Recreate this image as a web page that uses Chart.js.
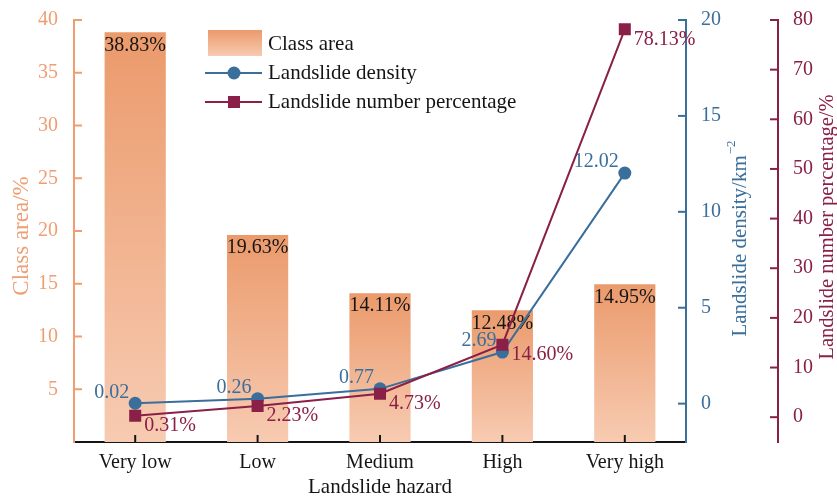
<!DOCTYPE html>
<html>
<head>
<meta charset="utf-8">
<script src="https://cdn.jsdelivr.net/npm/chart.js@4.4.0/dist/chart.umd.min.js"></script>
<style>
  html, body { margin: 0; padding: 0; background: #ffffff; }
  #wrap { width: 837px; height: 499px; }
</style>
</head>
<body>
<div id="wrap"><canvas id="c" width="837" height="499"></canvas></div>
<script>
// Hazard classes along the x axis
const hazardLevels = ['Very low', 'Low', 'Medium', 'High', 'Very high'];
// Share of the study area in each class (%)
const classArea = [38.83, 19.63, 14.11, 12.48, 14.95];
// Landslide density per class (km^-2)
const landslideDensity = [0.02, 0.26, 0.77, 2.69, 12.02];
// Share of all landslides falling in each class (%)
const landslideNumberPct = [0.31, 2.23, 4.73, 14.60, 78.13];
// Tick values shown on each value axis
const areaTicks = [5, 10, 15, 20, 25, 30, 35, 40];
const densityTicks = [0, 5, 10, 15, 20];
const numberTicks = [0, 10, 20, 30, 40, 50, 60, 70, 80];

const SERIF = '"Liberation Serif", "Times New Roman", serif';
const ORANGE = '#EE9E72';
const BAR_TOP = '#EB9A6B';
const BAR_BOTTOM = '#F7CBB2';
const BLUE = '#3A6E9B';
const WINE = '#8A1F47';
const INK = '#151515';
const FONT = { family: SERIF, size: 20 };

function barGradient(ctx, yTop, yBottom) {
  const g = ctx.createLinearGradient(0, yTop, 0, yBottom);
  g.addColorStop(0, BAR_TOP);
  g.addColorStop(1, BAR_BOTTOM);
  return g;
}

function setTicks(values) {
  return scale => { scale.ticks = values.map(v => ({ value: v })); };
}

const decorations = {
  id: 'decorations',
  afterDatasetDraw(chart, args) {
    const ctx = chart.ctx;
    const meta = args.meta;
    ctx.save();
    ctx.font = `20px ${SERIF}`;
    ctx.textBaseline = 'middle';
    if (args.index === 0) {
      ctx.fillStyle = INK;
      ctx.textAlign = 'center';
      meta.data.forEach((bar, i) => {
        ctx.fillText(classArea[i].toFixed(2) + '%', bar.x, bar.y + 13);
      });
    } else if (args.index === 1) {
      ctx.fillStyle = BLUE;
      ctx.textAlign = 'right';
      meta.data.forEach((pt, i) => {
        ctx.fillText(landslideDensity[i].toFixed(2), pt.x - 6, pt.y - 11);
      });
    } else if (args.index === 2) {
      ctx.fillStyle = WINE;
      ctx.textAlign = 'left';
      meta.data.forEach((pt, i) => {
        ctx.fillText(landslideNumberPct[i].toFixed(2) + '%', pt.x + 9, pt.y + 10);
      });
    }
    ctx.restore();
  },
  afterDraw(chart) {
    const ctx = chart.ctx;
    const ca = chart.chartArea;
    const sx = chart.scales.x;
    const sa = chart.scales.yArea;
    const sd = chart.scales.yDensity;
    const sn = chart.scales.yNumber;
    ctx.save();

    // inward tick marks
    ctx.lineWidth = 2;
    ctx.strokeStyle = ORANGE;
    areaTicks.forEach(v => {
      const y = sa.getPixelForValue(v);
      ctx.beginPath(); ctx.moveTo(sa.right, y); ctx.lineTo(sa.right + 8, y); ctx.stroke();
    });
    ctx.strokeStyle = BLUE;
    densityTicks.forEach(v => {
      const y = sd.getPixelForValue(v);
      ctx.beginPath(); ctx.moveTo(sd.left, y); ctx.lineTo(sd.left - 8, y); ctx.stroke();
    });
    ctx.strokeStyle = WINE;
    numberTicks.forEach(v => {
      const y = sn.getPixelForValue(v);
      ctx.beginPath(); ctx.moveTo(sn.left, y); ctx.lineTo(sn.left - 8, y); ctx.stroke();
    });
    ctx.strokeStyle = INK;
    hazardLevels.forEach((_, i) => {
      const x = sx.getPixelForValue(i);
      ctx.beginPath(); ctx.moveTo(x, sx.top); ctx.lineTo(x, sx.top - 7); ctx.stroke();
    });

    // axis titles
    ctx.textAlign = 'center';
    ctx.textBaseline = 'middle';
    ctx.font = `21px ${SERIF}`;
    ctx.fillStyle = INK;
    ctx.fillText('Landslide hazard', (ca.left + ca.right) / 2, sx.bottom - 12);

    const midY = (ca.top + ca.bottom) / 2;
    const vertical = (text, x, y, color, size) => {
      ctx.save();
      ctx.translate(x, y);
      ctx.rotate(-Math.PI / 2);
      ctx.font = `${size}px ${SERIF}`;
      ctx.fillStyle = color;
      ctx.fillText(text, 0, 0);
      ctx.restore();
    };
    vertical('Class area/%', sa.left + 22, midY + 5, ORANGE, 23);
    vertical('Landslide number percentage/%', sn.left + 50, midY - 4, WINE, 20.5);

    // density title with superscript unit
    ctx.save();
    ctx.translate(sd.left + 54, midY + 8);
    ctx.rotate(-Math.PI / 2);
    ctx.fillStyle = BLUE;
    const main = 'Landslide density/km';
    const sup = '\u22122';
    ctx.font = `21px ${SERIF}`;
    const wMain = ctx.measureText(main).width;
    ctx.font = `13px ${SERIF}`;
    const wSup = ctx.measureText(sup).width;
    const start = -(wMain + wSup) / 2;
    ctx.textAlign = 'left';
    ctx.font = `21px ${SERIF}`;
    ctx.fillText(main, start, 0);
    ctx.font = `13px ${SERIF}`;
    ctx.fillText(sup, start + wMain + 1, -8);
    ctx.restore();

    // legend
    const lx = ca.left + 131;
    ctx.fillStyle = barGradient(ctx, 30, 56);
    ctx.fillRect(lx + 3, 30, 54, 26);
    ctx.lineWidth = 2;
    ctx.strokeStyle = BLUE;
    ctx.beginPath(); ctx.moveTo(lx, 73); ctx.lineTo(lx + 57, 73); ctx.stroke();
    ctx.fillStyle = BLUE;
    ctx.beginPath(); ctx.arc(lx + 29, 73, 6.5, 0, Math.PI * 2); ctx.fill();
    ctx.strokeStyle = WINE;
    ctx.beginPath(); ctx.moveTo(lx, 102); ctx.lineTo(lx + 57, 102); ctx.stroke();
    ctx.fillStyle = WINE;
    ctx.fillRect(lx + 23, 96, 12, 12);

    ctx.font = `21px ${SERIF}`;
    ctx.textAlign = 'left';
    ctx.fillStyle = INK;
    ctx.fillText('Class area', lx + 63, 44);
    ctx.fillText('Landslide density', lx + 63, 73);
    ctx.fillText('Landslide number percentage', lx + 63, 102);

    ctx.restore();
  }
};

new Chart(document.getElementById('c'), {
  data: {
    labels: hazardLevels,
    datasets: [
      {
        type: 'bar',
        label: 'Class area',
        data: classArea,
        yAxisID: 'yArea',
        order: 3,
        barPercentage: 0.5,
        categoryPercentage: 1,
        borderWidth: 0,
        backgroundColor(context) {
          const chart = context.chart;
          if (!chart.chartArea || context.dataIndex === undefined) return BAR_TOP;
          const s = chart.scales.yArea;
          const v = context.raw;
          return barGradient(chart.ctx, s.getPixelForValue(v), s.getPixelForValue(0));
        }
      },
      {
        type: 'line',
        label: 'Landslide density',
        data: landslideDensity,
        yAxisID: 'yDensity',
        order: 2,
        borderColor: BLUE,
        borderWidth: 2,
        backgroundColor: BLUE,
        pointStyle: 'circle',
        pointRadius: 6.5,
        pointBorderWidth: 0,
        pointBackgroundColor: BLUE,
        tension: 0
      },
      {
        type: 'line',
        label: 'Landslide number percentage',
        data: landslideNumberPct,
        yAxisID: 'yNumber',
        order: 1,
        borderColor: WINE,
        borderWidth: 2,
        backgroundColor: WINE,
        pointStyle: 'rect',
        pointRadius: 8.5,
        pointBorderWidth: 0,
        pointBackgroundColor: WINE,
        tension: 0
      }
    ]
  },
  options: {
    responsive: false,
    devicePixelRatio: 1,
    animation: false,
    layout: { padding: { top: 18, left: 0, right: 0, bottom: 0 } },
    plugins: {
      legend: { display: false },
      tooltip: { enabled: false }
    },
    scales: {
      x: {
        type: 'category',
        offset: true,
        grid: { display: false },
        border: { color: INK, width: 2 },
        ticks: { font: FONT, color: INK, padding: 1, maxRotation: 0 },
        afterFit: s => { s.height = 57; }
      },
      yArea: {
        type: 'linear',
        position: 'left',
        min: 0,
        max: 40,
        grid: { display: false },
        border: { color: ORANGE, width: 2 },
        ticks: { font: FONT, color: ORANGE, padding: 8 },
        afterBuildTicks: setTicks(areaTicks),
        afterFit: s => { s.width = 74; }
      },
      yDensity: {
        type: 'linear',
        position: 'right',
        weight: 0,
        min: -2,
        max: 20,
        grid: { display: false },
        border: { color: BLUE, width: 2 },
        ticks: { font: FONT, color: BLUE, padding: 7 },
        afterBuildTicks: setTicks(densityTicks),
        afterFit: s => { s.width = 92; }
      },
      yNumber: {
        type: 'linear',
        position: 'right',
        weight: 1,
        min: -5,
        max: 80,
        grid: { display: false },
        border: { color: WINE, width: 2 },
        ticks: { font: FONT, color: WINE, padding: 7 },
        afterBuildTicks: setTicks(numberTicks),
        afterFit: s => { s.width = 59; }
      }
    }
  },
  plugins: [decorations]
});
</script>
</body>
</html>
